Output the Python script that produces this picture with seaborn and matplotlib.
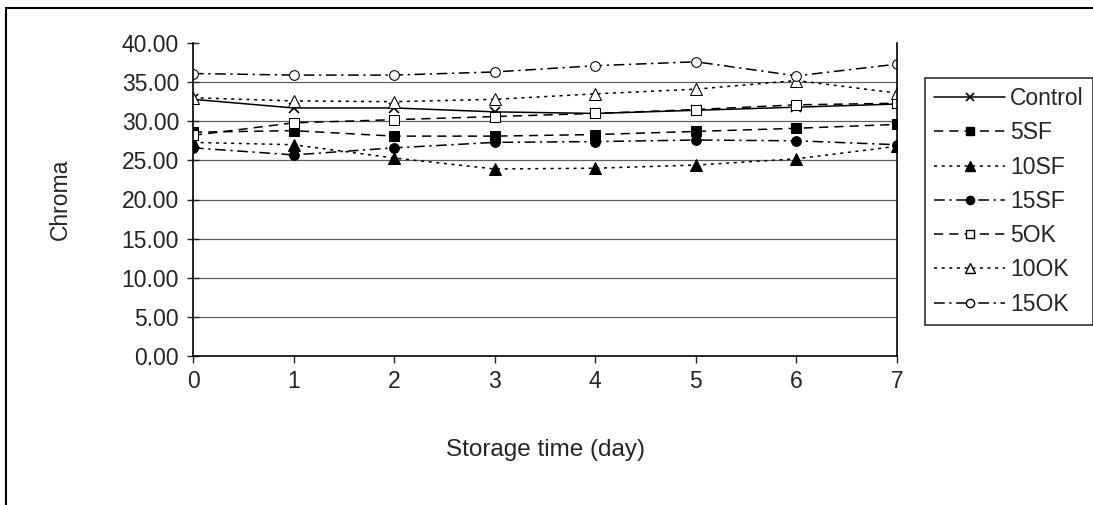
import matplotlib
matplotlib.use("Agg")
import matplotlib.pyplot as plt
import seaborn as sns
import numpy as np
from matplotlib.patches import Rectangle
from matplotlib.lines import Line2D

days = [0, 1, 2, 3, 4, 5, 6, 7]
control = [32.8, 31.7, 31.7, 31.2, 31.0, 31.4, 31.8, 32.2]
sf5 = [28.6, 28.8, 28.1, 28.1, 28.3, 28.7, 29.1, 29.6]
sf10 = [27.3, 27.0, 25.3, 23.9, 24.0, 24.4, 25.2, 26.8]
sf15 = [26.6, 25.7, 26.6, 27.3, 27.4, 27.6, 27.5, 27.0]
ok5 = [28.2, 29.8, 30.2, 30.6, 31.0, 31.5, 32.1, 32.3]
ok10 = [33.0, 32.6, 32.5, 32.8, 33.5, 34.1, 35.2, 33.6]
ok15 = [36.1, 35.9, 35.9, 36.3, 37.1, 37.6, 35.8, 37.3]
labels = ["Control", "5SF", "10SF", "15SF", "5OK", "10OK", "15OK"]
yticks = [0, 5, 10, 15, 20, 25, 30, 35, 40]

sns.set_theme(style="white")
plt.rcParams["font.family"] = ["Liberation Sans", "DejaVu Sans"]

FS = 16.5

fig = plt.figure(figsize=(10.93, 5.05), dpi=100)
ax = fig.add_axes([193/1093, 1-356/505, (897-193)/1093, (356-43)/505])

dash_long = (0, (6, 4))
dotted = (0, (2, 3))
dashdot = (0, (7, 3, 1.5, 3))
styles = [
    dict(linestyle="-", marker="x", mfc="black", ms=7, mew=1.2),
    dict(linestyle=dash_long, marker="s", mfc="black", ms=6.5),
    dict(linestyle=dotted, marker="^", mfc="black", ms=8),
    dict(linestyle=dashdot, marker="o", mfc="black", ms=7),
    dict(linestyle=dash_long, marker="s", mfc="white", ms=6.5),
    dict(linestyle=dotted, marker="^", mfc="white", ms=8),
    dict(linestyle=dashdot, marker="o", mfc="white", ms=7),
]
series = [control, sf5, sf10, sf15, ok5, ok10, ok15]

ax.set_ylim(0, 40)
ax.set_xlim(0, 7)
for yv in yticks[1:-1]:
    ax.axhline(yv, color="#606060", lw=0.9, zorder=0)

handles = []
for vals, st, lab in zip(series, styles, labels):
    sns.lineplot(x=days, y=vals, ax=ax, color="black", linewidth=1.1,
                 mec="black", legend=False, **st)
    handles.append(Line2D([], [], color="black", linewidth=1.1, mec="black",
                          **{k: (v if k != "ms" else v*0.85) for k, v in st.items()}))

ax.set_yticks(yticks)
ax.set_yticklabels([f"{v:.2f}" for v in yticks])
ax.set_xticks(days)
ax.set_xticklabels([str(d) for d in days])
ax.tick_params(axis="y", direction="inout", length=8, width=1, labelsize=FS, pad=6, left=True)
ax.tick_params(axis="x", direction="out", length=5, width=1, labelsize=FS, pad=5, bottom=True)
for side in ["left", "bottom", "right"]:
    ax.spines[side].set_visible(True)
    ax.spines[side].set_color("black")
    ax.spines[side].set_linewidth(1.2)
ax.spines["top"].set_visible(False)

ax.set_ylabel("Chroma", fontsize=FS, labelpad=36)
ax.set_xlabel("Storage time (day)", fontsize=17.5, labelpad=33)

leg = fig.legend(handles, labels, loc="upper left",
                 bbox_to_anchor=(925/1093, 1-78/505), frameon=True,
                 fontsize=FS, handlelength=3.1, labelspacing=0.49,
                 borderpad=0.4, handletextpad=0.2, borderaxespad=0, fancybox=False)
leg.get_frame().set_edgecolor("black")
leg.get_frame().set_linewidth(1.2)

fig.patches.append(Rectangle((6/1093, -0.2), 1.2, 1.2 - 8/505, transform=fig.transFigure,
                             fill=False, edgecolor="black", linewidth=1.5, clip_on=False))

fig.savefig("out.png", dpi=100)
